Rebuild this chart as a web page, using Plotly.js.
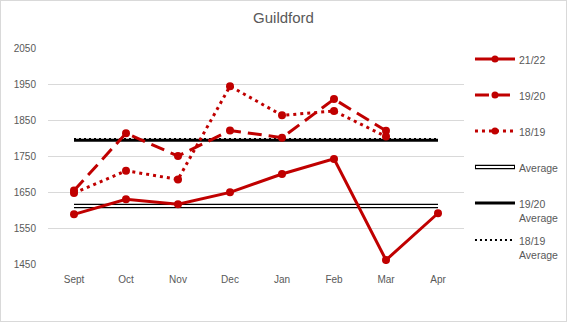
<!DOCTYPE html>
<html>
<head>
<meta charset="utf-8">
<script src="https://cdn.plot.ly/plotly-3.0.1.min.js"></script>
<style>
  html, body { margin: 0; padding: 0; background: #fff; }
  #wrap { width: 565px; height: 320px; border: 1px solid #d9d9d9; }
</style>
</head>
<body>
<div id="wrap"><div id="chart"></div></div>
<script>
const months = ["Sept", "Oct", "Nov", "Dec", "Jan", "Feb", "Mar", "Apr"];
const s2122 = [1588, 1630, 1616, 1649, 1700, 1742, 1461, 1591];
const s1920 = [1654, 1813, 1750, 1821, 1801, 1908, 1820, null];
const s1819 = [1647, 1709, 1685, 1944, 1863, 1875, 1804, null];
const avg2122 = [1611, 1611, 1611, 1611, 1611, 1611, 1611, 1611];
const avg1920 = [1794, 1794, 1794, 1794, 1794, 1794, 1794, 1794];
const avg1819 = [1797, 1797, 1797, 1797, 1797, 1797, 1797, 1797];
const legendNames = ["21/22", "19/20", "18/19", "Average", "19/20<br>Average", "18/19<br>Average"];

const red = "#C00000";
const styles = [
  { line: { color: red, width: 3 }, marker: true },
  { line: { color: red, width: 3, dash: "14px,7px" }, marker: true },
  { line: { color: red, width: 3, dash: "3px,4px" }, marker: true },
  { line: { color: "#000", width: 4.5 }, inner: { color: "#fff", width: 2 } },
  { line: { color: "#000", width: 3 } },
  { line: { color: "#000", width: 2, dash: "2px,3px" } }
];

const traces = [
  { x: months, y: avg1819, mode: "lines", line: styles[5].line },
  { x: months, y: avg1920, mode: "lines", line: styles[4].line },
  { x: months, y: avg2122, mode: "lines", line: styles[3].line },
  { x: months, y: avg2122, mode: "lines", line: styles[3].inner },
  { x: months, y: s1819, mode: "lines+markers", line: styles[2].line, marker: { color: red, size: 8 } },
  { x: months, y: s1920, mode: "lines+markers", line: styles[1].line, marker: { color: red, size: 8 } },
  { x: months, y: s2122, mode: "lines+markers", line: styles[0].line, marker: { color: red, size: 8 } }
];

// custom legend (layout only)
const plotW = 416, plotH = 216;
const legX0 = 1.0264, legX1 = 1.1226, legTx = 1.1274;
const legRowsPx = [11, 47, 83, 119, 155, 192]; // px below plot top
const shapes = [], annotations = [];
legendNames.forEach((name, i) => {
  const yp = 1 - legRowsPx[i] / plotH;
  const st = styles[i];
  shapes.push({ type: "line", xref: "paper", yref: "paper", x0: legX0, x1: legX1, y0: yp, y1: yp,
                line: { color: st.line.color, width: st.line.width, dash: st.line.dash || "solid" } });
  if (st.inner) {
    shapes.push({ type: "line", xref: "paper", yref: "paper", x0: legX0 + 1 / plotW, x1: legX1 - 1 / plotW, y0: yp, y1: yp,
                  line: { color: st.inner.color, width: st.inner.width } });
  }
  if (st.marker) {
    const xm = (legX0 + legX1) / 2, rx = 3.5 / plotW, ry = 3.5 / plotH;
    shapes.push({ type: "circle", xref: "paper", yref: "paper", x0: xm - rx, x1: xm + rx, y0: yp - ry, y1: yp + ry,
                  fillcolor: red, line: { width: 0 } });
  }
  annotations.push({ xref: "paper", yref: "paper", x: legTx, y: yp + 7 / plotH, xanchor: "left", yanchor: "top",
                     text: name, showarrow: false, align: "left",
                     font: { size: 10.5, color: "#595959" } });
});

const layout = {
  width: 565, height: 320,
  margin: { l: 47, r: 102, t: 47, b: 57 },
  paper_bgcolor: "#fff", plot_bgcolor: "#fff",
  font: { family: "Liberation Sans, Arial, sans-serif", size: 10, color: "#595959" },
  title: { text: "Guildford", x: 0.5, xref: "container", xanchor: "center", y: 0.965, yref: "container", yanchor: "top",
           font: { size: 15, color: "#595959" } },
  xaxis: { type: "category", range: [-0.5, 7.5], showgrid: false, zeroline: false, showline: false,
           ticks: "outside", ticklen: 6, tickcolor: "rgba(0,0,0,0)" },
  yaxis: { range: [1450, 2050], tick0: 1450, dtick: 100, showgrid: true, gridcolor: "#d9d9d9",
           zeroline: false, showline: false, ticks: "outside", ticklen: 9, tickcolor: "rgba(0,0,0,0)" },
  showlegend: false,
  shapes: shapes,
  annotations: annotations
};

Plotly.newPlot("chart", traces, layout, { displayModeBar: false, staticPlot: true });
</script>
</body>
</html>
